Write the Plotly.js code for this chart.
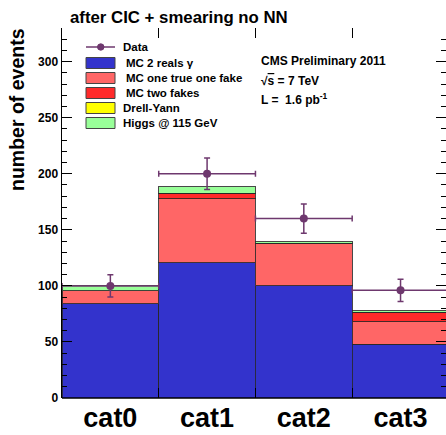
<!DOCTYPE html>
<html><head><meta charset="utf-8">
<script src="https://cdn.plot.ly/plotly-3.0.1.min.js"></script>
<style>html,body{margin:0;padding:0;background:#fff;} #chart{width:446px;height:435px;}</style>
</head><body><div id="chart"></div>
<script>
// ---- data ----
const categories = ['cat0', 'cat1', 'cat2', 'cat3'];
const mcTwoReals = [84, 120.5, 100, 48];
const mcOneTrueOneFake = [11.5, 57, 38, 20];
const mcTwoFakes = [0, 5, 0, 8.5];
const drellYann = [0, 0.3, 0, 0];
const higgs115 = [4.5, 5.8, 1.3, 1.5];
const dataCounts = [100, 200, 160, 96];
const dataErrors = [10, 14, 13, 10];
const seriesNames = ['MC 2 reals γ', 'MC one true one fake', 'MC two fakes', 'Drell-Yann', 'Higgs @ 115 GeV'];
const seriesValues = [mcTwoReals, mcOneTrueOneFake, mcTwoFakes, drellYann, higgs115];
const seriesColors = ['#3333cc', '#ff6666', '#ff2a2a', '#ffff00', '#99ff99'];
const yTickVals = [0, 50, 100, 150, 200, 250, 300];

// ---- layout constants ----
const W = 446, H = 435;
const M = {l: 62, r: 0, t: 28, b: 37};
const PW = W - M.l - M.r, PH = H - M.t - M.b;
const px = x => (x - M.l) / PW;
const py = y => (H - M.b - y) / PH;
const FONT = 'Liberation Sans, Arial, Helvetica, sans-serif';
const purple = '#6e386e';
const idx = categories.map((c, i) => i);
const boundaries = idx.slice(1).map(i => i - 0.5);
const xRange = [-0.5, 3.47];

const traces = seriesValues.map((vals, k) => ({
  type: 'bar', x: idx, y: vals, width: 1, name: seriesNames[k],
  marker: {color: seriesColors[k], line: {color: 'rgba(40,40,40,0.85)', width: 1}},
  xaxis: 'x', yaxis: 'y', showlegend: false, hoverinfo: 'skip'
}));
traces.push({
  type: 'scatter', mode: 'markers', x: idx, y: dataCounts, name: 'Data',
  xaxis: 'x2', yaxis: 'y', showlegend: false,
  marker: {color: purple, size: 8, symbol: 'circle'},
  error_y: {type: 'data', array: dataErrors, visible: true, color: purple, thickness: 1.5, width: 3},
  error_x: {type: 'constant', value: 0.5, visible: true, color: purple, thickness: 1.5, width: 3}
});

// legend (manual)
const shapes = [];
const annotations = [];
const legX0 = 86, legX1 = 115;
shapes.push({type: 'line', xref: 'paper', yref: 'paper', x0: px(legX0), x1: px(legX1), y0: py(47), y1: py(47), line: {color: purple, width: 1.5}});
shapes.push({type: 'circle', xref: 'paper', yref: 'paper', x0: px(97.5), x1: px(104), y0: py(43.8), y1: py(50.2), fillcolor: purple, line: {color: purple, width: 1}});
annotations.push({xref: 'paper', yref: 'paper', x: px(121), y: py(47), xanchor: 'left', yanchor: 'middle', showarrow: false, text: 'Data', font: {family: FONT, size: 11.5, color: '#000', weight: 'bold'}});
const rowY = [63, 78, 93, 108, 123];
const textX = [124, 124, 124, 121, 121];
seriesNames.forEach((n, k) => {
  shapes.push({type: 'rect', xref: 'paper', yref: 'paper', x0: px(legX0), x1: px(legX1), y0: py(rowY[k] - 5.5), y1: py(rowY[k] + 5.5), fillcolor: seriesColors[k], line: {color: '#444', width: 1}});
  annotations.push({xref: 'paper', yref: 'paper', x: px(textX[k]), y: py(rowY[k]), xanchor: 'left', yanchor: 'middle', showarrow: false, text: n, font: {family: FONT, size: 11.5, color: '#000', weight: 'bold'}});
});
// bottom frame line
shapes.push({type: 'line', xref: 'paper', yref: 'paper', x0: 0, x1: 1, y0: 0, y1: 0, layer: 'above', line: {color: '#000', width: 1.5}});

// CMS labels
const cmsFont = {family: FONT, size: 12, color: '#000', weight: 'bold'};
annotations.push({xref: 'paper', yref: 'paper', x: px(259), y: py(61), xanchor: 'left', yanchor: 'middle', showarrow: false, text: 'CMS Preliminary 2011', font: cmsFont});
annotations.push({xref: 'paper', yref: 'paper', x: px(259), y: py(81), xanchor: 'left', yanchor: 'middle', showarrow: false, text: '√<span style="text-decoration:overline">s</span> = 7 TeV', font: cmsFont});
annotations.push({xref: 'paper', yref: 'paper', x: px(259), y: py(99), xanchor: 'left', yanchor: 'middle', showarrow: false, text: 'L =  1.6 pb<sup>-1</sup>', font: cmsFont});
// y title
annotations.push({xref: 'paper', yref: 'paper', x: px(17), y: py(110), xanchor: 'center', yanchor: 'middle', showarrow: false, textangle: -90, text: 'number of events', font: {family: FONT, size: 19.5, color: '#000', weight: 'bold'}});

const layout = {
  width: W, height: H, margin: M,
  paper_bgcolor: '#fff', plot_bgcolor: '#fff',
  barmode: 'stack', bargap: 0,
  showlegend: false,
  title: {text: 'after CIC + smearing no NN', xref: 'container', yref: 'container', x: 70 / W, xanchor: 'left', y: 1 - 17 / H, yanchor: 'middle', font: {family: FONT, size: 16.8, color: '#000', weight: 'bold'}},
  xaxis: {range: xRange, tickvals: idx, ticktext: categories, ticks: '', showline: false, showgrid: false, zeroline: false,
          ticklabelstandoff: 1,
          tickfont: {family: FONT, size: 27, color: '#000', weight: 'bold'}},
  xaxis2: {overlaying: 'x', anchor: 'y', side: 'bottom', range: xRange, tickvals: boundaries, showticklabels: false,
           ticks: 'inside', ticklen: 10, tickwidth: 1, tickcolor: '#000', mirror: 'ticks', showline: false, showgrid: false, zeroline: false},
  yaxis: {range: [0, 330], tickvals: yTickVals, ticks: 'inside', ticklen: 10, tickwidth: 1, tickcolor: '#000',
          showline: true, linecolor: '#000', linewidth: 1.5, mirror: 'ticks', showgrid: false, zeroline: false,
          minor: {dtick: 10, ticks: 'inside', ticklen: 5, tickwidth: 1, tickcolor: '#000', showgrid: false},
          tickfont: {family: FONT, size: 12, color: '#000', weight: 'bold'}},
  shapes: shapes, annotations: annotations
};
Plotly.newPlot('chart', traces, layout, {staticPlot: true, displayModeBar: false});
</script></body></html>
